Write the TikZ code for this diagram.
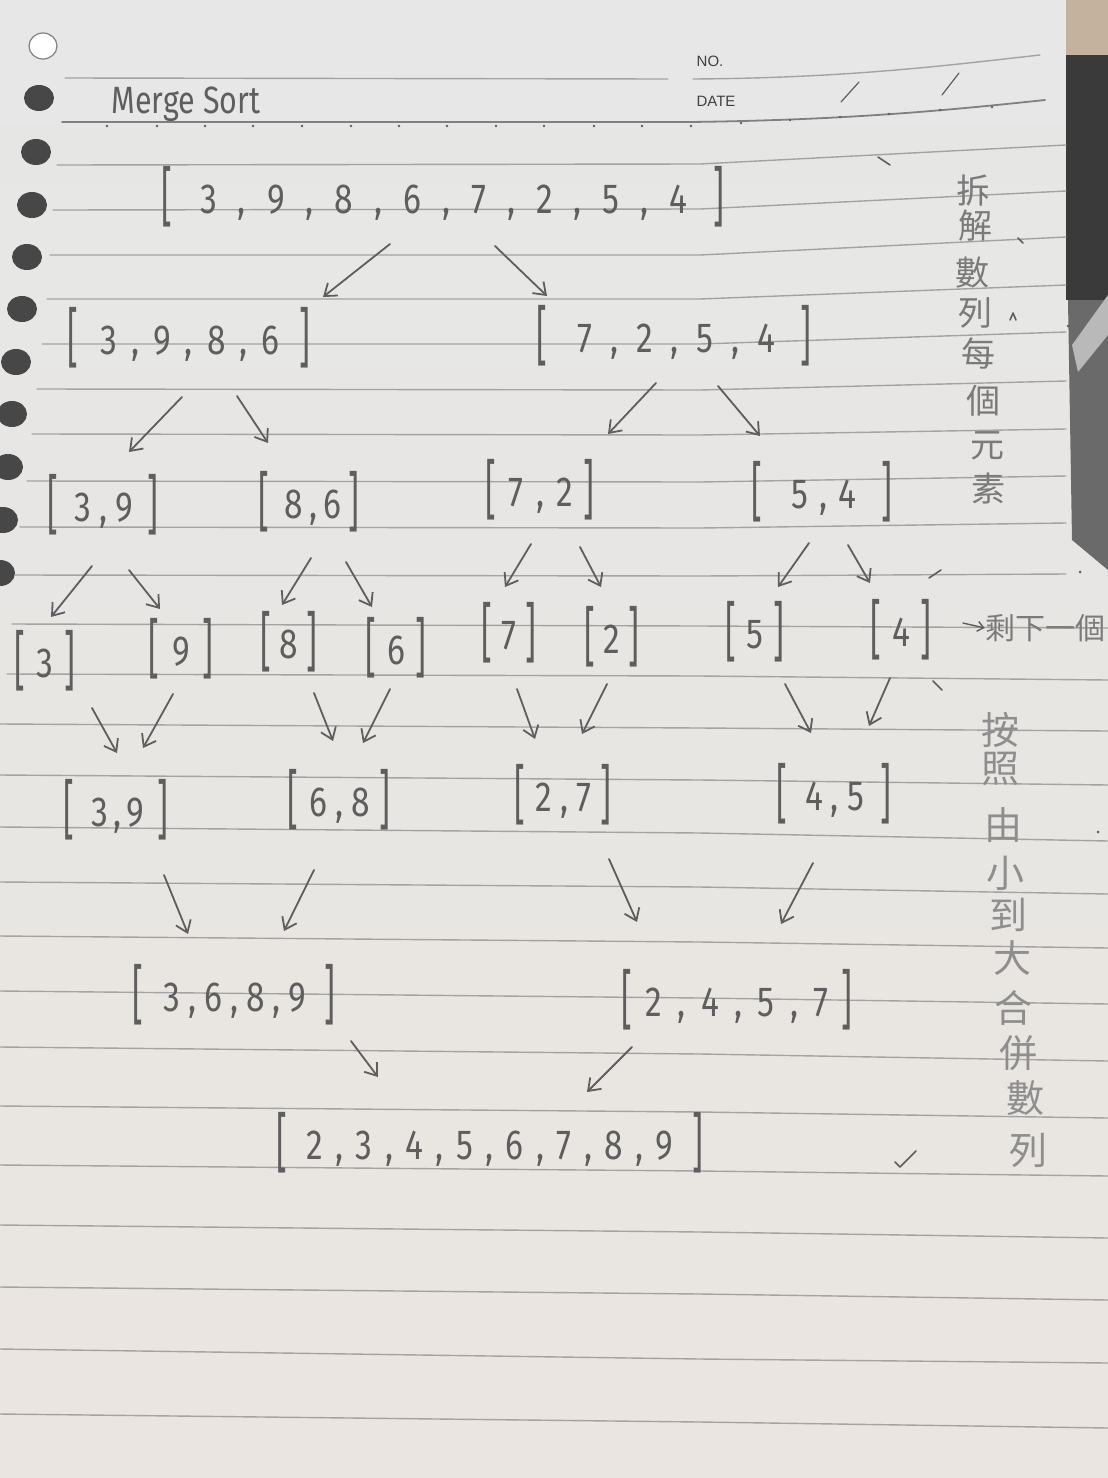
\documentclass[tikz,border=0pt]{standalone}
\usepackage{fontspec}
\usetikzlibrary{arrows.meta}
\IfFontExistsTF{FiraSans-Light.otf}
  {\newfontfamily\hand{FiraSans-Light.otf}[FakeStretch=0.8]}
  {\newfontfamily\hand{Fira Sans}[FakeStretch=0.8]}
\newfontfamily\cjk{Noto Sans CJK TC}
\newfontfamily\printed{Liberation Sans}
\definecolor{paperT}{HTML}{E6E7E6}
\definecolor{paperB}{HTML}{EAE5E0}
\definecolor{ruleclr}{HTML}{A3A3A3}
\definecolor{pencil}{HTML}{5E5E5E}
\definecolor{cjkA}{HTML}{7A7A7A}
\definecolor{cjkB}{HTML}{8E8E8E}
\definecolor{holeclr}{HTML}{474747}
\definecolor{tanbg}{HTML}{C4B29F}
\definecolor{darkbg}{HTML}{3A3A3A}
\definecolor{grayb}{HTML}{6A6A6A}
\newlength\cg
\newcommand\Lb{\scalebox{1}[1.55]{[}}
\newcommand\Rb{\scalebox{1}[1.55]{]}}
\newcommand\cma{\hspace{\cg},\hspace{\cg}}
\newcommand\Lst[4]{\setlength\cg{#3}\Lb\hspace{#1}\raisebox{3.2pt}{#4}\hspace{#2}\Rb}
\begin{document}
\begin{tikzpicture}[x=0.5pt,y=-0.5pt,line cap=round,line join=round,
  lst/.style={font=\hand\fontsize{21}{21}\selectfont,text=pencil,inner sep=0pt,anchor=center},
  arr/.style={draw=pencil,line width=0.9pt,-{Straight Barb[length=5.5pt,width=8pt]}},
  rule/.style={draw=ruleclr,line width=0.7pt},
  chA/.style={font=\cjk\fontsize{17}{17}\selectfont,text=cjkA,inner sep=0pt},
  chB/.style={font=\cjk\fontsize{19}{19}\selectfont,text=cjkB,inner sep=0pt},
  penmark/.style={draw=pencil,line width=0.8pt}]
\useasboundingbox (0,0) rectangle (1108,1478);
% paper
\shade[top color=paperT,bottom color=paperB] (0,0) rectangle (1108,1478);
% right background beyond the page
\fill[tanbg] (1066,0) rectangle (1108,55);
\fill[darkbg] (1066,55) rectangle (1108,300);
\fill[grayb] (1068,300) -- (1108,300) -- (1108,570) -- (1072,540) -- cycle;
\fill[gray!55] (1108,295) -- (1072,345) -- (1078,372) -- (1108,335) -- cycle;
% binder holes
\filldraw[fill=white,draw=gray,line width=0.6pt] (43,46) ellipse [x radius=14,y radius=13];
\foreach \hx/\hy in {39/98,36/152,32/205,27/257,22/309,16/362,12/414,8/467,3/520,0/573}
  \fill[holeclr] (\hx,\hy) ellipse [x radius=15,y radius=13];
% header lines
\draw[rule] (65,78) -- (668,79);
\draw[rule] (693,79) .. controls (850,78) and (950,65) .. (1040,55);
\draw[rule,draw=gray,line width=0.9pt] (62,122) -- (690,122) .. controls (850,120) and (950,110) .. (1045,100);
\foreach \dx/\dy in {107/126,157/126,205/126,253/126,302/126,351/126,399/126,447/126,496/126,544/126,594/126,642/126,691/126,741/123,790/120,840/117,889/114,940/110,992/107}
  \fill[pencil] (\dx,\dy) circle [radius=1.3];
\node[font=\printed\fontsize{7.5}{8}\selectfont,text=black!75,inner sep=0pt] (no) at (710,61) {NO.};
\node[font=\printed\fontsize{7.5}{8}\selectfont,text=black!75,inner sep=0pt] (date) at (716,101) {DATE};
\draw[penmark,line width=0.6pt] (841,102) -- (859,82);
\draw[penmark,line width=0.6pt] (942,95) -- (959,73);
\node[font=\hand\fontsize{19}{19}\selectfont,text=pencil,inner sep=0pt] (title) at (186,104) {Merge Sort};
% ruled lines
\foreach \xs/\L/\M/\R in {57/165/164/145,53/210/209/191,50/255/255/237,47/299/299/285,42/344/344/332,37/389/390/381,32/434/435/429,27/481/482/476,20/527/528/523,15/575/576/574}
  \draw[rule] (\xs,\L) -- (700,\M) -- (1066,\R);
\foreach \xs/\L/\M/\R in {12/624/626/628,7/674/676/680,0/724/728/731,0/775/780/785,0/827/833/841,0/882/887/894,0/936/942/948,0/991/998/1004,0/1047/1054/1061,0/1106/1112/1118,0/1165/1171/1176,0/1225/1232/1238,0/1287/1294/1300,0/1349/1359/1363,0/1414/1422/1428}
  \draw[rule] (\xs,\L) -- (700,\M) -- (1108,\R);
% lists
\node[lst] (r1) at (443,197) {\Lst{14pt}{13pt}{10.5pt}{3\cma9\cma8\cma6\cma7\cma2\cma5\cma4}};
\node[lst] (r2a) at (189,338) {\Lst{11pt}{10pt}{7pt}{3\cma9\cma8\cma6}};
\node[lst] (r2b) at (674,336) {\Lst{15pt}{12.5pt}{9pt}{7\cma2\cma5\cma4}};
\node[lst] (r3a) at (103,505) {\Lst{8pt}{7pt}{4pt}{3\cma9}};
\node[lst] (r3b) at (309,502) {\Lst{7.5pt}{3.5pt}{3.3pt}{8\cma6}};
\node[lst] (r3c) at (540,490) {\Lst{6pt}{5pt}{6.3pt}{7\cma2}};
\node[lst] (r3d) at (822,492) {\Lst{14.5pt}{12.5pt}{5.5pt}{5\cma4}};
\node[lst] (r4a) at (45,661) {\Lst{5.5pt}{5.5pt}{0pt}{3}};
\node[lst] (r4b) at (181,649) {\Lst{6.5pt}{6.5pt}{0pt}{9}};
\node[lst] (r4c) at (289,642) {\Lst{4pt}{4pt}{0pt}{8}};
\node[lst] (r4d) at (396,648) {\Lst{5.5pt}{5.5pt}{0pt}{6}};
\node[lst] (r4e) at (509,633) {\Lst{4.5pt}{4.5pt}{0pt}{7}};
\node[lst] (r4f) at (612,637) {\Lst{4pt}{4pt}{0pt}{2}};
\node[lst] (r4g) at (755,632) {\Lst{5pt}{5pt}{0pt}{5}};
\node[lst] (r4h) at (901,630) {\Lst{5.5pt}{5.5pt}{0pt}{4}};
\node[lst] (r5a) at (116,810) {\Lst{8.5pt}{7pt}{2.5pt}{3\cma9}};
\node[lst] (r5b) at (339,800) {\Lst{5.5pt}{5pt}{4pt}{6\cma8}};
\node[lst] (r5c) at (563,795) {\Lst{5pt}{4.5pt}{4pt}{2\cma7}};
\node[lst] (r5d) at (834,794) {\Lst{9pt}{8.5pt}{4pt}{4\cma5}};
\node[lst] (r6a) at (234,995) {\Lst{10pt}{9pt}{4pt}{3\cma6\cma8\cma9}};
\node[lst] (r6b) at (737,1000) {\Lst{6.5pt}{6.5pt}{7.7pt}{2\cma4\cma5\cma7}};
\node[lst] (r7) at (490,1143) {\Lst{9.5pt}{9.5pt}{6.2pt}{2\cma3\cma4\cma5\cma6\cma7\cma8\cma9}};
% arrows
\foreach \n/\a/\b/\c/\d in {
 a1/390/244/323/297, a2/495/246/547/296,
 b1/182/397/129/452, b2/237/396/268/443, b3/656/383/608/434, b4/718/386/760/436,
 c1/92/566/51/617, c2/129/570/160/609, c3/311/558/282/605, c4/346/562/372/607,
 c5/531/544/505/587, c6/580/547/601/587, c7/809/543/778/587, c8/848/545/870/583,
 d1/92/708/117/753, d2/173/694/143/748, d3/314/693/333/741, d4/390/689/363/743,
 d5/517/689/535/739, d6/607/684/582/734, d7/785/684/811/733, d8/890/678/869/726,
 e1/164/875/188/934, e2/314/870/284/931, e3/609/859/637/922, e4/813/863/781/924,
 f1/351/1041/378/1077, f2/632/1047/587/1092}
 {\coordinate (s\n) at (\a,\b); \coordinate (e\n) at (\c,\d); \draw[arr] (s\n) -- (e\n);}
% right-hand notes
\foreach \c/\x/\y [count=\i] in {拆/973/191,解/975/226,數/972/273,列/975/313,每/978/353,個/983/401,元/987/446,素/988/489}
  \node[chA] (na\i) at (\x,\y) {\c};
\node[font=\cjk\fontsize{15}{15}\selectfont,text=cjkA,inner sep=0pt] (nb) at (1045,628) {剩下一個};
\coordinate (nbs) at (963,623);
\draw[draw=pencil,line width=0.7pt,-{Straight Barb[length=3pt,width=5pt]}] (nbs) -- (nb.west);
\foreach \c/\x/\y [count=\i] in {按/1000/730,照/1000/769,由/1003/825,小/1005/873,到/1008/915,大/1012/958,合/1013/1008,併/1018/1053,數/1025/1098,列/1028/1150}
  \node[chB] (nc\i) at (\x,\y) {\c};
% stray pen marks
\draw[penmark] (878,157) -- (890,165);
\draw[penmark] (1018,238) -- (1023,243);
\draw[penmark] (1010,320) -- (1013,313) -- (1016,320);
\fill[pencil] (1068,326) circle [radius=1.5];
\draw[penmark] (929,578) -- (941,570);
\fill[pencil] (1080,572) circle [radius=1.5];
\draw[penmark] (933,681) -- (942,690);
\fill[pencil] (1098,832) circle [radius=1.5];
\draw[penmark] (895,1162) -- (900,1167) -- (916,1151);
\end{tikzpicture}
\end{document}
